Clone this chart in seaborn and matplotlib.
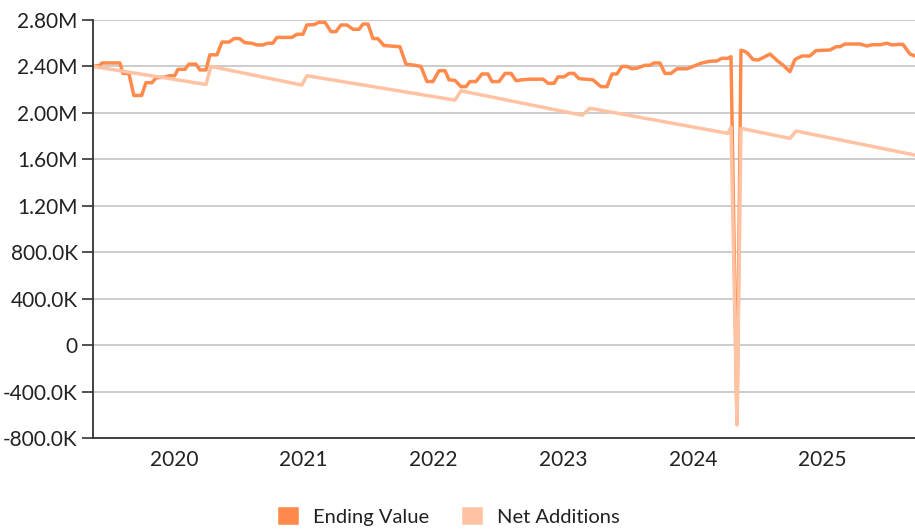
import numpy as np
import pandas as pd
import matplotlib
matplotlib.use("Agg")
import matplotlib.pyplot as plt
from matplotlib.patches import Patch
from matplotlib.ticker import FuncFormatter
import seaborn as sns

# Ending Value series (dates / values in millions)
ending_dates = [
    "2019-11-17", "2019-12-07", "2019-12-12", "2020-02-01", "2020-02-09", "2020-02-26",
    "2020-03-11", "2020-04-02", "2020-04-14", "2020-05-01", "2020-05-12", "2020-06-09",
    "2020-06-20", "2020-07-04", "2020-07-13", "2020-08-02", "2020-08-13", "2020-09-02",
    "2020-09-13", "2020-09-30", "2020-10-11", "2020-10-31", "2020-11-14", "2020-12-04",
    "2020-12-18", "2021-01-03", "2021-01-17", "2021-02-06", "2021-02-20", "2021-03-09",
    "2021-03-23", "2021-04-06", "2021-04-18", "2021-05-30", "2021-06-13", "2021-06-30",
    "2021-07-11", "2021-07-31", "2021-08-14", "2021-08-31", "2021-09-17", "2021-10-01",
    "2021-10-15", "2021-11-01", "2021-11-18", "2021-12-05", "2021-12-16", "2021-12-30",
    "2022-01-13", "2022-01-27", "2022-02-13", "2022-03-30", "2022-04-16", "2022-05-11",
    "2022-05-28", "2022-06-14", "2022-07-01", "2022-07-18", "2022-08-04", "2022-08-15",
    "2022-09-01", "2022-09-18", "2022-10-02", "2022-10-13", "2022-10-30", "2022-11-16",
    "2022-12-03", "2022-12-14", "2023-01-03", "2023-01-20", "2023-02-06", "2023-02-20",
    "2023-03-09", "2023-03-31", "2023-05-07", "2023-05-21", "2023-06-07", "2023-06-18",
    "2023-07-05", "2023-07-19", "2023-08-02", "2023-08-16", "2023-09-24", "2023-10-17",
    "2023-11-03", "2023-11-17", "2023-12-01", "2023-12-15", "2023-12-29", "2024-01-12",
    "2024-01-26", "2024-02-18", "2024-03-03", "2024-03-14", "2024-03-31", "2024-04-14",
    "2024-05-01", "2024-05-18", "2024-06-15", "2024-07-02", "2024-07-27", "2024-08-19",
    "2024-09-07", "2024-09-21", "2024-10-08", "2024-10-17", "2024-11-03", "2024-11-14",
    "2024-11-25", "2024-12-04", "2024-12-18", "2025-01-01", "2025-01-18", "2025-02-04",
    "2025-02-24", "2025-03-13", "2025-04-01", "2025-04-15", "2025-05-05", "2025-05-27",
    "2025-06-13", "2025-07-23", "2025-08-09", "2025-08-20", "2025-09-03", "2025-10-15",
    "2025-11-04", "2025-11-18", "2025-12-11", "2025-12-30", "2026-01-13", "2026-01-30",
    "2026-02-13", "2026-03-05", "2026-03-19",
]
ending_values = [
    2.40, 2.41, 2.43, 2.43, 2.34, 2.34,
    2.15, 2.15, 2.26, 2.26, 2.30, 2.31,
    2.32, 2.32, 2.375, 2.375, 2.42, 2.42,
    2.37, 2.37, 2.50, 2.50, 2.61, 2.61,
    2.64, 2.64, 2.605, 2.60, 2.585, 2.585,
    2.60, 2.60, 2.65, 2.65, 2.677, 2.677,
    2.757, 2.76, 2.78, 2.78, 2.70, 2.70,
    2.757, 2.757, 2.72, 2.72, 2.765, 2.765,
    2.64, 2.64, 2.58, 2.57, 2.42, 2.41,
    2.40, 2.27, 2.27, 2.363, 2.363, 2.285,
    2.28, 2.226, 2.226, 2.27, 2.27, 2.335,
    2.335, 2.27, 2.27, 2.34, 2.34, 2.277,
    2.285, 2.29, 2.29, 2.255, 2.255, 2.31,
    2.31, 2.34, 2.34, 2.295, 2.285, 2.226,
    2.226, 2.335, 2.335, 2.40, 2.40, 2.38,
    2.385, 2.41, 2.41, 2.43, 2.43, 2.34,
    2.34, 2.38, 2.38, 2.40, 2.43, 2.445,
    2.447, 2.47, 2.47, 2.484, -0.68, 2.54,
    2.53, 2.51, 2.46, 2.455, 2.48, 2.507,
    2.45, 2.41, 2.355, 2.46, 2.49, 2.49,
    2.536, 2.542, 2.57, 2.57, 2.593, 2.593,
    2.576, 2.587, 2.587, 2.60, 2.585, 2.59,
    2.59, 2.507, 2.49,
]

# Net Additions series (dates / values in millions)
net_dates = [
    "2019-11-17", "2020-09-30", "2020-10-14", "2021-06-27", "2021-07-11",
    "2022-09-01", "2022-09-18", "2023-08-25", "2023-09-16", "2024-10-08",
    "2024-10-17", "2024-11-03", "2024-11-14", "2025-04-01", "2025-04-18",
    "2026-03-19",
]
net_values = [
    2.40, 2.245, 2.40, 2.24, 2.32,
    2.11, 2.19, 1.98, 2.04, 1.824,
    1.876, -0.688, 1.867, 1.78, 1.844,
    1.637,
]

year_labels = ["2020", "2021", "2022", "2023", "2024", "2025"]
y_ticks = [-800000, -400000, 0, 400000, 800000, 1200000, 1600000, 2000000, 2400000, 2800000]

ending = pd.DataFrame({"date": pd.to_datetime(ending_dates),
                       "value": np.array(ending_values) * 1e6})
net = pd.DataFrame({"date": pd.to_datetime(net_dates),
                    "value": np.array(net_values) * 1e6})

c_end = "#FF8A4C"
c_net = "#FFC3A3"

sns.set_style("white")
plt.rcParams["font.family"] = ["Lato", "DejaVu Sans"]

fig = plt.figure(figsize=(9.15, 5.30), dpi=100)
ax = fig.add_axes([93 / 915, 92 / 530, 822 / 915, 418 / 530])

sns.lineplot(data=ending, x="date", y="value", ax=ax, color=c_end, linewidth=2.5)
sns.lineplot(data=net, x="date", y="value", ax=ax, color=c_net, linewidth=2.5)

ax.set_ylim(-800000, 2800000)
ax.set_xlim(pd.Timestamp("2019-11-17"), pd.Timestamp("2026-03-19"))
ax.set_yticks(y_ticks)


def fmt(v, pos):
    if v == 0:
        return "0"
    if abs(v) >= 1e6:
        return f"{v / 1e6:.2f}M"
    return f"{v / 1e3:.1f}K"


ax.yaxis.set_major_formatter(FuncFormatter(fmt))
ax.grid(axis="y", color="#C4C4C4", linewidth=1.2)
ax.set_axisbelow(True)

# year boundaries as ticks, labels in the middle of each year
bounds = [pd.Timestamp(f"{y}-01-01") for y in year_labels] + [pd.Timestamp("2026-01-01")]
ax.set_xticks(bounds)
ax.set_xticklabels([""] * len(bounds))
ax.set_xticks([pd.Timestamp(f"{y}-07-02") for y in year_labels], minor=True)
ax.set_xticklabels(year_labels, minor=True)
ax.tick_params(axis="x", which="major", length=6, width=1.2, color="#333333")
ax.tick_params(axis="x", which="minor", length=0, pad=9, labelsize=15, labelcolor="#222222")
ax.tick_params(axis="y", length=8, width=1.2, color="#333333", labelsize=15,
               labelcolor="#222222", pad=3, left=True)

for s in ["top", "right"]:
    ax.spines[s].set_visible(False)
for s in ["left", "bottom"]:
    ax.spines[s].set_color("#333333")
    ax.spines[s].set_linewidth(1.3)

ax.set_xlabel("")
ax.set_ylabel("")

handles = [Patch(facecolor=c_end, label="Ending Value"),
           Patch(facecolor=c_net, label="Net Additions")]
fig.legend(handles=handles, loc="lower center", bbox_to_anchor=(0.49, -0.026), ncol=2,
           frameon=False, fontsize=14.5, handlelength=1.1, handleheight=1.1,
           columnspacing=1.6, handletextpad=0.7, labelcolor="#222222")

fig.savefig("out.png", dpi=100)
